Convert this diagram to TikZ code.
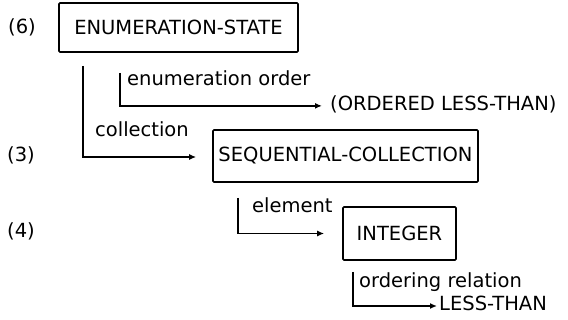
\documentclass[tikz,border=0pt]{standalone}
\usepackage{fontspec}
\setmainfont{DejaVu Sans}
\usetikzlibrary{arrows.meta}
\begin{document}
\begin{tikzpicture}[x=1pt,y=-1pt,
  every node/.style={font=\fontsize{19.5}{22}\selectfont},
  frame/.style={draw,line width=1.7pt,inner sep=0pt,rounded corners=1pt},
  lbl/.style={anchor=base west,inner sep=0pt},
  conn/.style={line width=1.6pt,-{Latex[length=7pt,width=6pt]}}]
\useasboundingbox (0,0) rectangle (568,320);
% boxes
\node[frame,minimum width=239pt,minimum height=49pt] (es) at (178.5,27.5) {ENUMERATION-STATE};
\node[frame,minimum width=265pt,minimum height=52pt] (seq) at (345.5,156) {SEQUENTIAL-COLLECTION};
\node[frame,minimum width=113pt,minimum height=53pt] (int) at (399.5,233.5) {INTEGER};
% level labels
\node[lbl] (l6) at (8,34) {(6)};
\node[lbl] (l3) at (7,162) {(3)};
\node[lbl] (l4) at (7,238) {(4)};
% relation labels
\node[lbl] (eo) at (127,86) {enumeration order};
\node[lbl] (ord) at (330,111) {(ORDERED LESS-THAN)};
\node[lbl] (col) at (95,137) {collection};
\node[lbl] (elm) at (252,213) {element};
\node[lbl] (orl) at (359,288) {ordering relation};
\node[lbl] (lt) at (439,311) {LESS-THAN};
% connector starts
\coordinate (c1) at (83,66);
\coordinate (c2) at (120,73);
\coordinate (c3) at (238,198);
\coordinate (c4) at (353,272);
% connectors
\draw[conn] (c1) |- ([xshift=-16pt,yshift=-1pt]seq.west);
\draw[conn] (c2) |- ([xshift=-8pt,yshift=-1pt]ord.west);
\draw[conn] (c3) |- ([xshift=-18pt]int.west);
\draw[conn] (c4) |- ([xshift=-2pt,yshift=5pt]lt.base west);
\end{tikzpicture}
\end{document}
